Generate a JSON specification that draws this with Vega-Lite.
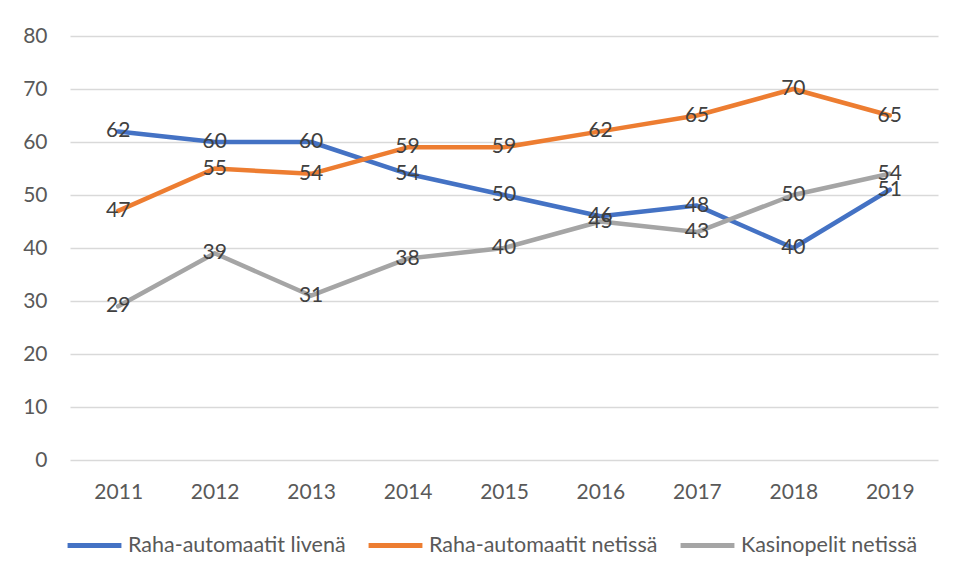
{
  "$schema": "https://vega.github.io/schema/vega-lite/v6.json",
  "width": 868,
  "height": 424,
  "autosize": "none",
  "padding": {"left": 70, "top": 36, "right": 15, "bottom": 119},
  "background": "white",
  "config": {"view": {"stroke": null}, "font": "Lato"},
  "data": {"values": [
    {"year": "2011", "series": "Raha-automaatit livenä", "value": 62},
    {"year": "2012", "series": "Raha-automaatit livenä", "value": 60},
    {"year": "2013", "series": "Raha-automaatit livenä", "value": 60},
    {"year": "2014", "series": "Raha-automaatit livenä", "value": 54},
    {"year": "2015", "series": "Raha-automaatit livenä", "value": 50},
    {"year": "2016", "series": "Raha-automaatit livenä", "value": 46},
    {"year": "2017", "series": "Raha-automaatit livenä", "value": 48},
    {"year": "2018", "series": "Raha-automaatit livenä", "value": 40},
    {"year": "2019", "series": "Raha-automaatit livenä", "value": 51},
    {"year": "2011", "series": "Raha-automaatit netissä", "value": 47},
    {"year": "2012", "series": "Raha-automaatit netissä", "value": 55},
    {"year": "2013", "series": "Raha-automaatit netissä", "value": 54},
    {"year": "2014", "series": "Raha-automaatit netissä", "value": 59},
    {"year": "2015", "series": "Raha-automaatit netissä", "value": 59},
    {"year": "2016", "series": "Raha-automaatit netissä", "value": 62},
    {"year": "2017", "series": "Raha-automaatit netissä", "value": 65},
    {"year": "2018", "series": "Raha-automaatit netissä", "value": 70},
    {"year": "2019", "series": "Raha-automaatit netissä", "value": 65},
    {"year": "2011", "series": "Kasinopelit netissä", "value": 29},
    {"year": "2012", "series": "Kasinopelit netissä", "value": 39},
    {"year": "2013", "series": "Kasinopelit netissä", "value": 31},
    {"year": "2014", "series": "Kasinopelit netissä", "value": 38},
    {"year": "2015", "series": "Kasinopelit netissä", "value": 40},
    {"year": "2016", "series": "Kasinopelit netissä", "value": 45},
    {"year": "2017", "series": "Kasinopelit netissä", "value": 43},
    {"year": "2018", "series": "Kasinopelit netissä", "value": 50},
    {"year": "2019", "series": "Kasinopelit netissä", "value": 54}
  ]},
  "encoding": {
    "x": {
      "field": "year", "type": "ordinal",
      "axis": {"title": null, "labelAngle": 0, "domain": false, "ticks": false, "labelPadding": 21, "labelFontSize": 21, "labelColor": "#595959"}
    },
    "y": {
      "field": "value", "type": "quantitative",
      "scale": {"domain": [0, 80]},
      "axis": {"title": null, "values": [0, 10, 20, 30, 40, 50, 60, 70, 80], "domain": false, "ticks": false, "labelPadding": 23, "labelFontSize": 21, "labelColor": "#595959", "gridColor": "#D9D9D9", "gridWidth": 1.3}
    }
  },
  "layer": [
    {
      "mark": {"type": "line", "strokeWidth": 4.5, "strokeCap": "round", "strokeJoin": "round"},
      "encoding": {
        "color": {
          "field": "series", "type": "nominal",
          "scale": {"domain": ["Raha-automaatit livenä", "Raha-automaatit netissä", "Kasinopelit netissä"], "range": ["#4472C4", "#ED7D31", "#A5A5A5"]},
          "legend": {
            "title": null, "orient": "none", "direction": "horizontal", "legendX": -5, "legendY": 480,
            "symbolType": "stroke", "symbolSize": 2900, "symbolStrokeWidth": 5, "labelFontSize": 21.5, "labelColor": "#595959",
            "labelOffset": 4, "columnPadding": 12, "padding": 0, "labelLimit": 400
          }
        },
        "order": {"field": "year"}
      }
    },
    {
      "mark": {"type": "text", "fontSize": 21, "color": "#404040", "align": "center", "baseline": "middle"},
      "encoding": {"text": {"field": "value", "type": "quantitative"}}
    }
  ]
}
